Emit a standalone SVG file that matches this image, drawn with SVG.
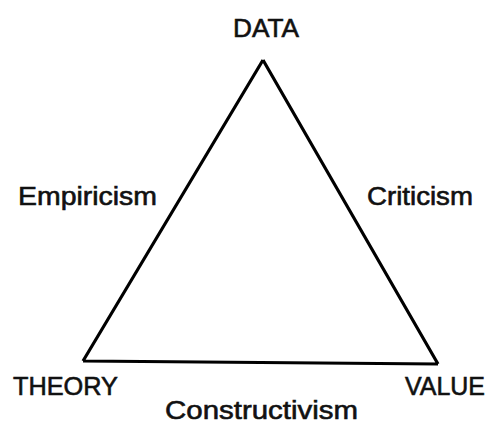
<svg xmlns="http://www.w3.org/2000/svg" width="491" height="425" viewBox="0 0 491 425">
<style>
text{font-family:"Liberation Sans",Arial,sans-serif;font-size:26px;fill:#111;stroke:#111;stroke-width:0.6}
.edge{fill:none;stroke:#000;stroke-width:3.2;stroke-linejoin:miter}
</style>
<rect width="491" height="425" fill="#fff"/>
<g id="connectors">
<path class="edge" d="M263,60 L83,361 M263,60 L438,364 M83,361 L438,364"/>
</g>
<g id="data"><text x="233" y="37" textLength="66" lengthAdjust="spacingAndGlyphs">DATA</text></g>
<g id="theory"><text x="13" y="395" textLength="105" lengthAdjust="spacingAndGlyphs">THEORY</text></g>
<g id="value"><text x="405" y="395" textLength="80" lengthAdjust="spacingAndGlyphs">VALUE</text></g>
<g id="empiricism"><text x="18" y="205" textLength="139" lengthAdjust="spacingAndGlyphs">Empiricism</text></g>
<g id="criticism"><text x="367" y="205" textLength="106" lengthAdjust="spacingAndGlyphs">Criticism</text></g>
<g id="constructivism"><text x="165" y="419" textLength="193" lengthAdjust="spacingAndGlyphs">Constructivism</text></g>
</svg>
